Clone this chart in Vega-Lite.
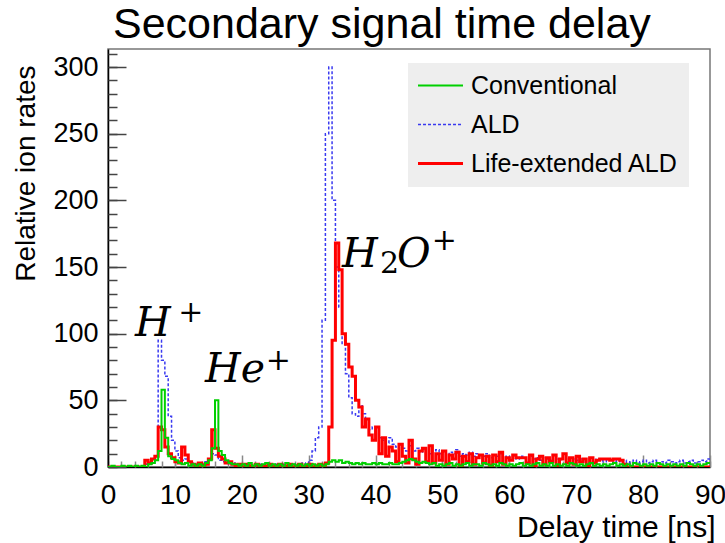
{
"$schema": "https://vega.github.io/schema/vega-lite/v6.json",
"width": 602, "height": 418,
"autosize": {"type": "none"},
"padding": {"left": 108, "top": 49, "right": 15, "bottom": 76},
"background": "white",
"title": {"text": "Secondary signal time delay", "anchor": "start", "frame": "group", "dx": 5, "fontSize": 43, "font": "Liberation Sans", "fontWeight": "normal", "color": "black", "offset": 2},
"config": {"view": {"stroke": "#777777", "strokeWidth": 1.5}, "axis": {"grid": false}},
"datasets": {"hist": [
{"t":0,"Conventional":0,"ALD":0,"Life-extended ALD":0},
{"t":0.5,"Conventional":1,"ALD":0,"Life-extended ALD":0},
{"t":1,"Conventional":0,"ALD":0,"Life-extended ALD":0},
{"t":1.5,"Conventional":0,"ALD":0,"Life-extended ALD":0},
{"t":2,"Conventional":1,"ALD":1,"Life-extended ALD":0},
{"t":2.5,"Conventional":0,"ALD":0,"Life-extended ALD":0},
{"t":3,"Conventional":1,"ALD":0,"Life-extended ALD":0},
{"t":3.5,"Conventional":0,"ALD":1,"Life-extended ALD":0},
{"t":4,"Conventional":1,"ALD":0,"Life-extended ALD":0},
{"t":4.5,"Conventional":0,"ALD":1,"Life-extended ALD":0},
{"t":5,"Conventional":1,"ALD":1,"Life-extended ALD":0},
{"t":5.5,"Conventional":0,"ALD":2,"Life-extended ALD":5},
{"t":6,"Conventional":2,"ALD":2,"Life-extended ALD":3},
{"t":6.5,"Conventional":3,"ALD":3,"Life-extended ALD":6},
{"t":7,"Conventional":5,"ALD":8,"Life-extended ALD":8},
{"t":7.5,"Conventional":12,"ALD":95,"Life-extended ALD":30},
{"t":8,"Conventional":58,"ALD":80,"Life-extended ALD":28},
{"t":8.5,"Conventional":22,"ALD":68,"Life-extended ALD":15},
{"t":9,"Conventional":8,"ALD":38,"Life-extended ALD":10},
{"t":9.5,"Conventional":6,"ALD":20,"Life-extended ALD":7},
{"t":10,"Conventional":5,"ALD":12,"Life-extended ALD":4},
{"t":10.5,"Conventional":3,"ALD":7,"Life-extended ALD":3},
{"t":11,"Conventional":2,"ALD":5,"Life-extended ALD":15},
{"t":11.5,"Conventional":3,"ALD":6,"Life-extended ALD":9},
{"t":12,"Conventional":1,"ALD":4,"Life-extended ALD":4},
{"t":12.5,"Conventional":2,"ALD":3,"Life-extended ALD":2},
{"t":13,"Conventional":1,"ALD":2,"Life-extended ALD":1},
{"t":13.5,"Conventional":2,"ALD":3,"Life-extended ALD":3},
{"t":14,"Conventional":1,"ALD":2,"Life-extended ALD":1},
{"t":14.5,"Conventional":3,"ALD":4,"Life-extended ALD":2},
{"t":15,"Conventional":5,"ALD":6,"Life-extended ALD":6},
{"t":15.5,"Conventional":14,"ALD":10,"Life-extended ALD":28},
{"t":16,"Conventional":50,"ALD":9,"Life-extended ALD":14},
{"t":16.5,"Conventional":12,"ALD":5,"Life-extended ALD":8},
{"t":17,"Conventional":9,"ALD":4,"Life-extended ALD":6},
{"t":17.5,"Conventional":5,"ALD":3,"Life-extended ALD":3},
{"t":18,"Conventional":3,"ALD":2,"Life-extended ALD":4},
{"t":18.5,"Conventional":2,"ALD":3,"Life-extended ALD":2},
{"t":19,"Conventional":2,"ALD":2,"Life-extended ALD":1},
{"t":19.5,"Conventional":1,"ALD":1,"Life-extended ALD":2},
{"t":20,"Conventional":2,"ALD":2,"Life-extended ALD":0},
{"t":20.5,"Conventional":1,"ALD":1,"Life-extended ALD":2},
{"t":21,"Conventional":3,"ALD":2,"Life-extended ALD":1},
{"t":21.5,"Conventional":1,"ALD":1,"Life-extended ALD":0},
{"t":22,"Conventional":2,"ALD":1,"Life-extended ALD":2},
{"t":22.5,"Conventional":1,"ALD":2,"Life-extended ALD":1},
{"t":23,"Conventional":2,"ALD":1,"Life-extended ALD":0},
{"t":23.5,"Conventional":3,"ALD":2,"Life-extended ALD":1},
{"t":24,"Conventional":1,"ALD":1,"Life-extended ALD":2},
{"t":24.5,"Conventional":2,"ALD":1,"Life-extended ALD":0},
{"t":25,"Conventional":1,"ALD":2,"Life-extended ALD":1},
{"t":25.5,"Conventional":2,"ALD":1,"Life-extended ALD":2},
{"t":26,"Conventional":1,"ALD":2,"Life-extended ALD":0},
{"t":26.5,"Conventional":3,"ALD":1,"Life-extended ALD":1},
{"t":27,"Conventional":1,"ALD":1,"Life-extended ALD":2},
{"t":27.5,"Conventional":2,"ALD":2,"Life-extended ALD":0},
{"t":28,"Conventional":1,"ALD":1,"Life-extended ALD":1},
{"t":28.5,"Conventional":2,"ALD":2,"Life-extended ALD":2},
{"t":29,"Conventional":1,"ALD":3,"Life-extended ALD":0},
{"t":29.5,"Conventional":2,"ALD":2,"Life-extended ALD":1},
{"t":30,"Conventional":1,"ALD":5,"Life-extended ALD":2},
{"t":30.5,"Conventional":2,"ALD":12,"Life-extended ALD":0},
{"t":31,"Conventional":1,"ALD":22,"Life-extended ALD":1},
{"t":31.5,"Conventional":2,"ALD":30,"Life-extended ALD":2},
{"t":32,"Conventional":1,"ALD":110,"Life-extended ALD":1},
{"t":32.5,"Conventional":2,"ALD":250,"Life-extended ALD":3},
{"t":33,"Conventional":4,"ALD":300,"Life-extended ALD":30},
{"t":33.5,"Conventional":5,"ALD":200,"Life-extended ALD":95},
{"t":34,"Conventional":4,"ALD":150,"Life-extended ALD":168},
{"t":34.5,"Conventional":5,"ALD":120,"Life-extended ALD":148},
{"t":35,"Conventional":3,"ALD":92,"Life-extended ALD":100},
{"t":35.5,"Conventional":4,"ALD":70,"Life-extended ALD":92},
{"t":36,"Conventional":3,"ALD":52,"Life-extended ALD":75},
{"t":36.5,"Conventional":2,"ALD":40,"Life-extended ALD":68},
{"t":37,"Conventional":3,"ALD":38,"Life-extended ALD":50},
{"t":37.5,"Conventional":2,"ALD":46,"Life-extended ALD":45},
{"t":38,"Conventional":3,"ALD":40,"Life-extended ALD":30},
{"t":38.5,"Conventional":2,"ALD":33,"Life-extended ALD":36},
{"t":39,"Conventional":2,"ALD":28,"Life-extended ALD":24},
{"t":39.5,"Conventional":3,"ALD":30,"Life-extended ALD":20},
{"t":40,"Conventional":2,"ALD":25,"Life-extended ALD":30},
{"t":40.5,"Conventional":3,"ALD":22,"Life-extended ALD":10},
{"t":41,"Conventional":2,"ALD":20,"Life-extended ALD":22},
{"t":41.5,"Conventional":2,"ALD":18,"Life-extended ALD":8},
{"t":42,"Conventional":3,"ALD":22,"Life-extended ALD":15},
{"t":42.5,"Conventional":2,"ALD":17,"Life-extended ALD":12},
{"t":43,"Conventional":2,"ALD":15,"Life-extended ALD":4},
{"t":43.5,"Conventional":3,"ALD":17,"Life-extended ALD":17},
{"t":44,"Conventional":4,"ALD":14,"Life-extended ALD":8},
{"t":44.5,"Conventional":5,"ALD":12,"Life-extended ALD":3},
{"t":45,"Conventional":6,"ALD":16,"Life-extended ALD":20},
{"t":45.5,"Conventional":5,"ALD":12,"Life-extended ALD":6},
{"t":46,"Conventional":4,"ALD":14,"Life-extended ALD":2},
{"t":46.5,"Conventional":3,"ALD":11,"Life-extended ALD":12},
{"t":47,"Conventional":4,"ALD":13,"Life-extended ALD":14},
{"t":47.5,"Conventional":3,"ALD":14,"Life-extended ALD":4},
{"t":48,"Conventional":2,"ALD":10,"Life-extended ALD":16},
{"t":48.5,"Conventional":3,"ALD":12,"Life-extended ALD":3},
{"t":49,"Conventional":1,"ALD":13,"Life-extended ALD":10},
{"t":49.5,"Conventional":2,"ALD":10,"Life-extended ALD":5},
{"t":50,"Conventional":1,"ALD":12,"Life-extended ALD":12},
{"t":50.5,"Conventional":2,"ALD":9,"Life-extended ALD":2},
{"t":51,"Conventional":3,"ALD":11,"Life-extended ALD":9},
{"t":51.5,"Conventional":1,"ALD":10,"Life-extended ALD":6},
{"t":52,"Conventional":2,"ALD":13,"Life-extended ALD":11},
{"t":52.5,"Conventional":1,"ALD":8,"Life-extended ALD":1},
{"t":53,"Conventional":2,"ALD":10,"Life-extended ALD":8},
{"t":53.5,"Conventional":3,"ALD":9,"Life-extended ALD":4},
{"t":54,"Conventional":1,"ALD":11,"Life-extended ALD":10},
{"t":54.5,"Conventional":2,"ALD":8,"Life-extended ALD":2},
{"t":55,"Conventional":2,"ALD":10,"Life-extended ALD":7},
{"t":55.5,"Conventional":1,"ALD":9,"Life-extended ALD":9},
{"t":56,"Conventional":3,"ALD":8,"Life-extended ALD":3},
{"t":56.5,"Conventional":2,"ALD":10,"Life-extended ALD":8},
{"t":57,"Conventional":1,"ALD":7,"Life-extended ALD":1},
{"t":57.5,"Conventional":2,"ALD":9,"Life-extended ALD":9},
{"t":58,"Conventional":1,"ALD":8,"Life-extended ALD":4},
{"t":58.5,"Conventional":3,"ALD":10,"Life-extended ALD":11},
{"t":59,"Conventional":2,"ALD":7,"Life-extended ALD":2},
{"t":59.5,"Conventional":1,"ALD":8,"Life-extended ALD":7},
{"t":60,"Conventional":2,"ALD":7,"Life-extended ALD":5},
{"t":60.5,"Conventional":1,"ALD":8,"Life-extended ALD":9},
{"t":61,"Conventional":2,"ALD":6,"Life-extended ALD":7},
{"t":61.5,"Conventional":3,"ALD":8,"Life-extended ALD":7},
{"t":62,"Conventional":1,"ALD":7,"Life-extended ALD":7},
{"t":62.5,"Conventional":2,"ALD":6,"Life-extended ALD":3},
{"t":63,"Conventional":1,"ALD":8,"Life-extended ALD":9},
{"t":63.5,"Conventional":2,"ALD":6,"Life-extended ALD":1},
{"t":64,"Conventional":3,"ALD":7,"Life-extended ALD":6},
{"t":64.5,"Conventional":1,"ALD":5,"Life-extended ALD":8},
{"t":65,"Conventional":2,"ALD":7,"Life-extended ALD":2},
{"t":65.5,"Conventional":1,"ALD":6,"Life-extended ALD":7},
{"t":66,"Conventional":3,"ALD":5,"Life-extended ALD":4},
{"t":66.5,"Conventional":1,"ALD":7,"Life-extended ALD":9},
{"t":67,"Conventional":2,"ALD":6,"Life-extended ALD":1},
{"t":67.5,"Conventional":1,"ALD":5,"Life-extended ALD":6},
{"t":68,"Conventional":2,"ALD":7,"Life-extended ALD":10},
{"t":68.5,"Conventional":1,"ALD":6,"Life-extended ALD":3},
{"t":69,"Conventional":3,"ALD":5,"Life-extended ALD":7},
{"t":69.5,"Conventional":2,"ALD":6,"Life-extended ALD":2},
{"t":70,"Conventional":1,"ALD":5,"Life-extended ALD":8},
{"t":70.5,"Conventional":2,"ALD":6,"Life-extended ALD":4},
{"t":71,"Conventional":1,"ALD":4,"Life-extended ALD":6},
{"t":71.5,"Conventional":2,"ALD":6,"Life-extended ALD":1},
{"t":72,"Conventional":3,"ALD":5,"Life-extended ALD":7},
{"t":72.5,"Conventional":1,"ALD":4,"Life-extended ALD":3},
{"t":73,"Conventional":2,"ALD":6,"Life-extended ALD":5},
{"t":73.5,"Conventional":1,"ALD":5,"Life-extended ALD":6},
{"t":74,"Conventional":2,"ALD":4,"Life-extended ALD":6},
{"t":74.5,"Conventional":1,"ALD":5,"Life-extended ALD":6},
{"t":75,"Conventional":2,"ALD":6,"Life-extended ALD":5},
{"t":75.5,"Conventional":3,"ALD":4,"Life-extended ALD":6},
{"t":76,"Conventional":1,"ALD":5,"Life-extended ALD":6},
{"t":76.5,"Conventional":2,"ALD":4,"Life-extended ALD":5},
{"t":77,"Conventional":1,"ALD":5,"Life-extended ALD":2},
{"t":77.5,"Conventional":2,"ALD":3,"Life-extended ALD":0},
{"t":78,"Conventional":1,"ALD":4,"Life-extended ALD":0},
{"t":78.5,"Conventional":3,"ALD":5,"Life-extended ALD":0},
{"t":79,"Conventional":2,"ALD":3,"Life-extended ALD":0},
{"t":79.5,"Conventional":1,"ALD":4,"Life-extended ALD":0},
{"t":80,"Conventional":2,"ALD":5,"Life-extended ALD":0},
{"t":80.5,"Conventional":1,"ALD":3,"Life-extended ALD":0},
{"t":81,"Conventional":2,"ALD":4,"Life-extended ALD":0},
{"t":81.5,"Conventional":1,"ALD":5,"Life-extended ALD":0},
{"t":82,"Conventional":3,"ALD":3,"Life-extended ALD":0},
{"t":82.5,"Conventional":2,"ALD":4,"Life-extended ALD":0},
{"t":83,"Conventional":1,"ALD":3,"Life-extended ALD":0},
{"t":83.5,"Conventional":2,"ALD":5,"Life-extended ALD":0},
{"t":84,"Conventional":1,"ALD":4,"Life-extended ALD":0},
{"t":84.5,"Conventional":2,"ALD":3,"Life-extended ALD":0},
{"t":85,"Conventional":1,"ALD":4,"Life-extended ALD":0},
{"t":85.5,"Conventional":2,"ALD":5,"Life-extended ALD":0},
{"t":86,"Conventional":1,"ALD":3,"Life-extended ALD":0},
{"t":86.5,"Conventional":3,"ALD":4,"Life-extended ALD":0},
{"t":87,"Conventional":2,"ALD":5,"Life-extended ALD":0},
{"t":87.5,"Conventional":1,"ALD":3,"Life-extended ALD":0},
{"t":88,"Conventional":2,"ALD":4,"Life-extended ALD":0},
{"t":88.5,"Conventional":1,"ALD":5,"Life-extended ALD":0},
{"t":89,"Conventional":2,"ALD":4,"Life-extended ALD":0},
{"t":89.5,"Conventional":3,"ALD":6,"Life-extended ALD":0},
{"t":90,"Conventional":3,"ALD":6,"Life-extended ALD":0}
]},
"layer": [
{
"data": {"name": "hist"},
"transform": [{"fold": ["Conventional", "ALD", "Life-extended ALD"], "as": ["series", "value"]}, {"filter": "datum.series === 'ALD'"}],
"mark": {"type": "line", "interpolate": "step-after", "strokeWidth": 1.5, "strokeDash": [3, 2], "clip": true},
"encoding": {
"x": {"field": "t", "type": "quantitative", "scale": {"domain": [0, 90], "nice": false},
"axis": {"orient": "bottom", "values": [0,10,20,30,40,50,60,70,80,90],
"tickSize": -12, "tickColor": "#888888", "tickWidth": 1.5, "labelPadding": 26,
"labelFont": "Liberation Sans", "labelFontSize": 28, "labelColor": "black", "labelFlush": false, "labelOverlap": false,
"domainColor": "black", "domainWidth": 1.5,
"title": "Delay time [ns]", "titleFont": "Liberation Sans", "titleFontSize": 30, "titleFontWeight": "normal", "titleColor": "black",
"titleAnchor": "end", "titleAlign": "right", "titleX": 607, "titleY": 69, "titleBaseline": "alphabetic"}},
"y": {"field": "value", "type": "quantitative", "scale": {"domain": [0, 313.5], "nice": false},
"axis": {"orient": "left", "values": [0,50,100,150,200,250,300],
"tickSize": -18, "tickColor": "#444444", "tickWidth": 1.5, "labelPadding": 28,
"labelFont": "Liberation Sans", "labelFontSize": 27, "labelColor": "black", "labelOverlap": false,
"domainColor": "black", "domainWidth": 1.5,
"title": "Relative ion rates", "titleFont": "Liberation Sans", "titleFontSize": 28, "titleFontWeight": "normal", "titleColor": "black",
"titleAngle": -90, "titleAlign": "right", "titleX": -82, "titleY": 16, "titleBaseline": "middle"}},
"color": {"field": "series", "type": "nominal",
"scale": {"domain": ["Conventional", "ALD", "Life-extended ALD"], "range": ["#00d000", "#3a3af0", "#ff0000"]},
"legend": {"orient": "none", "legendX": 300, "legendY": 14, "title": null, "fillColor": "#eeeeee", "padding": 10,
"symbolType": "stroke", "symbolSize": 2025, "symbolStrokeWidth": 2, "symbolOffset": 10,
"labelFont": "Liberation Sans", "labelFontSize": 25, "labelColor": "black", "labelOffset": 18, "labelLimit": 400, "rowPadding": 13,
"encode": {"symbols": {"update": {
"strokeDash": {"signal": "datum.value === 'ALD' ? [3, 2] : [1, 0]"},
"strokeWidth": {"signal": "datum.value === 'Life-extended ALD' ? 3 : (datum.value === 'ALD' ? 1.5 : 2)"}}}}}}
}
},
{
"data": {"name": "hist"},
"transform": [{"fold": ["Conventional", "ALD", "Life-extended ALD"], "as": ["series", "value"]}, {"filter": "datum.series === 'Life-extended ALD'"}],
"mark": {"type": "line", "interpolate": "step-after", "strokeWidth": 3, "clip": true},
"encoding": {
"x": {"field": "t", "type": "quantitative", "scale": {"domain": [0, 90], "nice": false},
"axis": {"orient": "bottom", "values": [0,2,4,6,8,10,12,14,16,18,20,22,24,26,28,30,32,34,36,38,40,42,44,46,48,50,52,54,56,58,60,62,64,66,68,70,72,74,76,78,80,82,84,86,88,90],
"tickSize": -6, "tickColor": "#888888", "tickWidth": 1.5, "labels": false, "domain": false, "title": null}},
"y": {"field": "value", "type": "quantitative", "scale": {"domain": [0, 313.5], "nice": false},
"axis": {"orient": "left", "values": [0,10,20,30,40,50,60,70,80,90,100,110,120,130,140,150,160,170,180,190,200,210,220,230,240,250,260,270,280,290,300,310],
"tickSize": -9, "tickColor": "#444444", "tickWidth": 1.5, "labels": false, "domain": false, "title": null}},
"color": {"field": "series", "type": "nominal", "scale": {"domain": ["Conventional", "ALD", "Life-extended ALD"], "range": ["#00d000", "#3a3af0", "#ff0000"]}}
}
},
{
"data": {"name": "hist"},
"transform": [{"fold": ["Conventional", "ALD", "Life-extended ALD"], "as": ["series", "value"]}, {"filter": "datum.series === 'Conventional'"}],
"mark": {"type": "line", "interpolate": "step-after", "strokeWidth": 2, "clip": true},
"encoding": {
"x": {"field": "t", "type": "quantitative", "scale": {"domain": [0, 90], "nice": false}, "axis": null},
"y": {"field": "value", "type": "quantitative", "scale": {"domain": [0, 313.5], "nice": false}, "axis": null},
"color": {"field": "series", "type": "nominal", "scale": {"domain": ["Conventional", "ALD", "Life-extended ALD"], "range": ["#00d000", "#3a3af0", "#ff0000"]}}
}
},
{
"data": {"values": [
{"t": 4.04, "value": 98, "label": "H"},
{"t": 14.5, "value": 63.75, "label": "He"},
{"t": 35.0, "value": 150, "label": "H"},
{"t": 43.2, "value": 150, "label": "O"}
]},
"mark": {"type": "text", "font": "DejaVu Serif", "fontStyle": "italic", "fontSize": 41, "align": "left", "baseline": "alphabetic", "color": "black"},
"encoding": {
"x": {"field": "t", "type": "quantitative", "scale": {"domain": [0, 90], "nice": false}, "axis": null},
"y": {"field": "value", "type": "quantitative", "scale": {"domain": [0, 313.5], "nice": false}, "axis": null},
"text": {"field": "label"}
}
},
{
"data": {"values": [
{"t": 10.5, "value": 108.75, "label": "+"},
{"t": 23.6, "value": 72.75, "label": "+"},
{"t": 40.65, "value": 145.5, "label": "2"},
{"t": 48.4, "value": 162.75, "label": "+"}
]},
"mark": {"type": "text", "font": "DejaVu Serif", "fontSize": 30, "align": "left", "baseline": "alphabetic", "color": "black"},
"encoding": {
"x": {"field": "t", "type": "quantitative", "scale": {"domain": [0, 90], "nice": false}, "axis": null},
"y": {"field": "value", "type": "quantitative", "scale": {"domain": [0, 313.5], "nice": false}, "axis": null},
"text": {"field": "label"}
}
}
],
"resolve": {"axis": {"x": "independent", "y": "independent"}}
}
